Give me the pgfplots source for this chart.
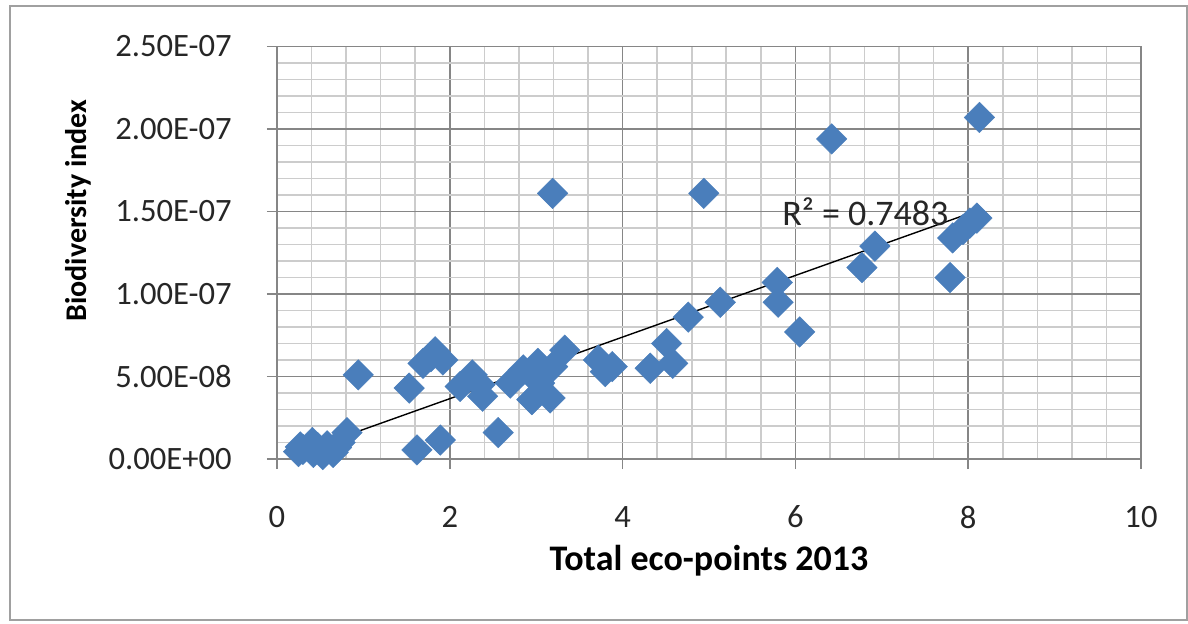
\documentclass[border=0pt]{standalone}
\usepackage{pgfplots}
\pgfplotsset{compat=1.18}
\usepackage{fontspec}
\setmainfont{Carlito}
\definecolor{mk}{RGB}{74,126,187}
\definecolor{majg}{RGB}{134,134,134}
\definecolor{ming}{RGB}{204,204,204}
\definecolor{frame}{RGB}{160,160,160}
\pgfplotstableread{
x y
0.25 0.45e-8
0.30 0.58e-8
0.42 0.40e-8
0.53 0.27e-8
0.65 0.40e-8
0.73 1.00e-8
0.81 1.60e-8
0.69 0.70e-8
0.41 1.00e-8
0.27 0.73e-8
0.47 0.70e-8
0.58 0.80e-8
0.94 5.10e-8
1.62 0.55e-8
1.89 1.15e-8
1.53 4.30e-8
1.69 5.80e-8
1.83 6.50e-8
1.92 6.00e-8
1.78 6.20e-8
2.12 4.40e-8
2.26 5.10e-8
2.35 4.50e-8
2.38 3.80e-8
2.56 1.60e-8
2.70 4.60e-8
2.85 5.40e-8
2.95 3.60e-8
3.02 5.80e-8
3.04 4.60e-8
3.16 3.70e-8
3.19 5.60e-8
3.33 6.60e-8
3.72 6.00e-8
3.80 5.30e-8
3.88 5.60e-8
4.32 5.50e-8
4.51 7.00e-8
4.58 5.80e-8
4.76 8.60e-8
5.13 9.50e-8
5.79 10.70e-8
5.80 9.50e-8
6.05 7.70e-8
6.77 11.60e-8
6.92 12.90e-8
7.79 11.00e-8
7.82 13.40e-8
7.94 13.90e-8
8.02 14.30e-8
8.10 14.60e-8
8.13 20.70e-8
6.42 19.40e-8
3.19 16.10e-8
4.94 16.10e-8
}\datatable
\pgfplotstableread{
x y
0.25 0.39e-8
8.13 15.10e-8
}\trendtable
\begin{document}
\begin{tikzpicture}
\useasboundingbox (-138.5pt,-82pt) rectangle (455.5pt,229.5pt);
\draw[color=frame, line width=1pt] (-133.5pt,-80.5pt) rectangle (455pt,226.5pt);
\begin{axis}[
  at={(0pt,0pt)}, anchor=south west,
  scale only axis, width=432pt, height=206.25pt,
  xmin=0, xmax=10, ymin=0, ymax=2.5e-7,
  xtick={0,2,4,6,8,10}, minor x tick num=4,
  ytick={0,5e-8,1e-7,1.5e-7,2e-7,2.5e-7}, minor y tick num=4,
  yticklabels={0.00E+00,5.00E-08,1.00E-07,1.50E-07,2.00E-07,2.50E-07},
  scaled y ticks=false, scaled x ticks=false,
  /pgf/number format/assume math mode=true,
  grid=both,
  major grid style={majg, line width=0.8pt},
  minor grid style={ming, line width=0.8pt},
  axis line style={majg, line width=0.8pt},
  tick align=outside, major tick length=5pt, minor tick length=0pt,
  tick style={majg, line width=0.8pt},
  xtick pos=lower, ytick pos=left,
  ticklabel style={font=\fontsize{16.3}{19}\selectfont, text=black!85},
  xticklabel style={anchor=center, yshift=-24pt},
  yticklabel style={anchor=east, inner sep=0pt, xshift=-17.5pt},
  xlabel={Total eco-points 2013},
  ylabel={Biodiversity index},
  xlabel style={at={(axis description cs:0.5,0)}, anchor=center, yshift=-51pt, font=\bfseries\fontsize{18}{21}\selectfont},
  ylabel style={at={(axis description cs:-0.2303,0.602)}, anchor=center, font=\bfseries\fontsize{15}{18}\selectfont},
  clip=false,
]
\addplot[only marks, mark=square*, mark size=5.4pt, mark options={rotate=45, fill=mk, draw=mk, line width=0.2pt}] table[x=x,y=y] {\datatable};
\addplot[black, line width=0.7pt] table[x=x,y=y] {\trendtable};
\node[font=\fontsize{18}{21}\selectfont, text=black!85] at (axis cs:6.81,1.497e-7) {R² = 0.7483};
\end{axis}
\end{tikzpicture}
\end{document}
